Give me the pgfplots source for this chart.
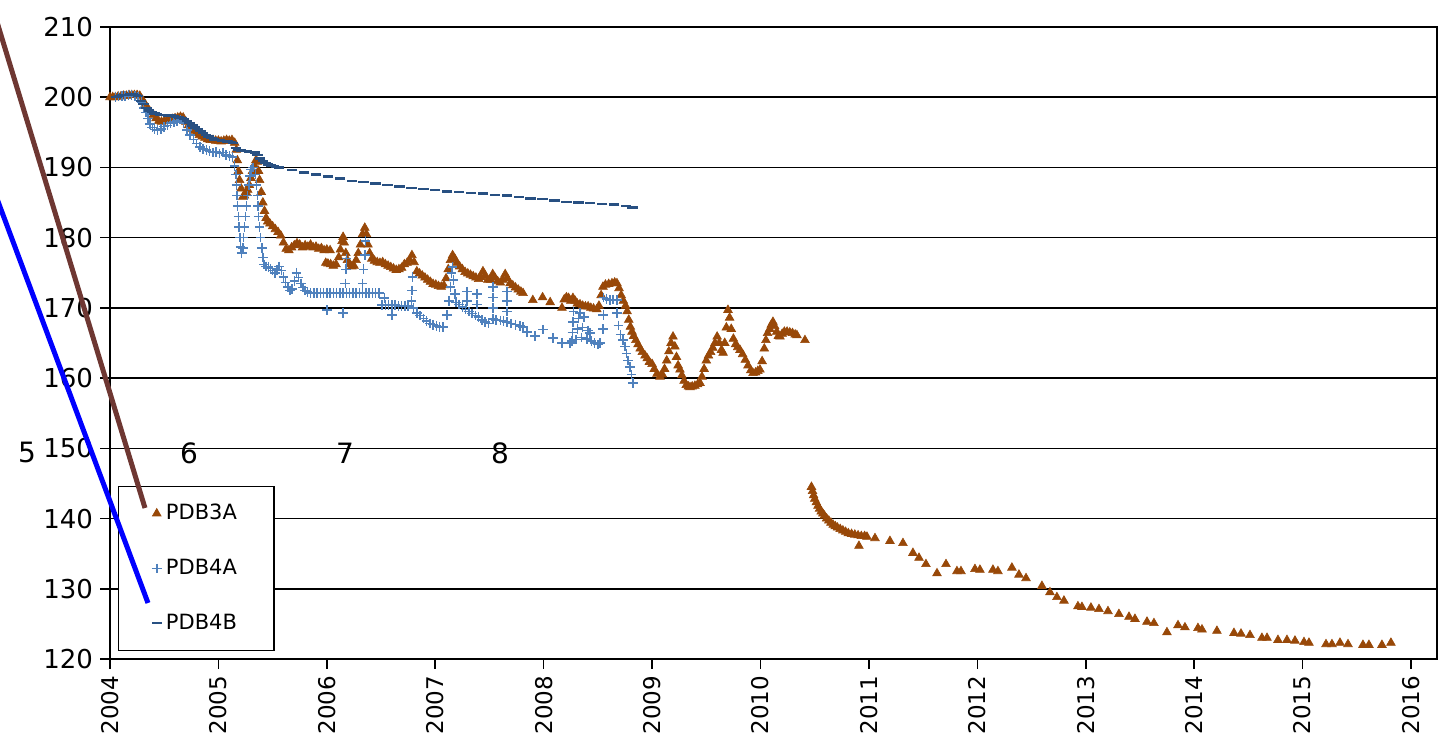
\documentclass[border=0pt]{standalone}
\usepackage{fontspec}
\setmainfont{DejaVu Sans}
\usepackage{pgfplots}
\pgfplotsset{compat=1.18}
\definecolor{cBrown}{RGB}{152,72,8}
\definecolor{cPlus}{RGB}{79,129,189}
\definecolor{cDash}{RGB}{40,80,130}
\definecolor{cLine}{RGB}{110,55,50}
\begin{document}
\begin{tikzpicture}
\begin{axis}[
  at={(0,0)}, anchor=south west, scale only axis,
  width=663.5pt, height=316pt,
  xmin=2004, xmax=2016.24, ymin=120, ymax=210,
  xtick={2004,2005,2006,2007,2008,2009,2010,2011,2012,2013,2014,2015,2016},
  xticklabels={2004,2005,2006,2007,2008,2009,2010,2011,2012,2013,2014,2015,2016},
  ytick={120,130,140,150,160,170,180,190,200,210},
  yticklabels={120,130,140,150,160,170,180,190,200,210},
  xticklabel style={rotate=90, anchor=east, font=\fontsize{11.5}{13}\selectfont},
  yticklabel style={font=\fontsize{13}{15}\selectfont},
  tick label style={black},
  tick align=outside, xtick pos=bottom, ytick pos=left,
  major tick length=5pt,
  tick style={black, line width=0.8pt},
  ymajorgrids, major grid style={black, line width=0.8pt},
  axis line style={black, line width=0.9pt},
  legend style={at={(0.006,0.0127)}, anchor=south west, draw=black, line width=0.6pt,
    font=\fontsize{10.5}{12}\selectfont, inner xsep=16.5pt, inner ysep=7pt, row sep=14.25pt,
    cells={anchor=west}},
  legend image code/.code={\draw[mark repeat=2,mark phase=2,#1] plot coordinates {(0pt,0pt)(4pt,0pt)(10.5pt,0pt)};},
]
% PDB3A
\addplot[only marks, mark=triangle*, mark size=2.5pt, color=cBrown, mark options={line width=0.3pt}] coordinates {
(2004.000,200.0)(2004.025,200.0)(2004.050,200.0)(2004.075,200.1)(2004.100,200.1)(2004.125,200.2)(2004.150,200.2)(2004.175,200.3)(2004.200,200.3)(2004.225,200.3)(2004.250,200.3)(2004.275,200.2)(2004.300,199.6)(2004.325,199.0)(2004.350,198.4)(2004.375,197.9)(2004.400,197.5)(2004.425,197.0)(2004.450,196.6)(2004.475,196.5)(2004.500,196.6)(2004.525,196.7)(2004.550,196.8)(2004.575,196.9)(2004.600,197.0)(2004.625,197.1)(2004.650,197.2)(2004.675,197.1)(2004.700,196.5)(2004.725,196.0)(2004.750,195.5)(2004.775,195.2)(2004.800,194.9)(2004.825,194.6)(2004.850,194.4)(2004.875,194.2)(2004.900,194.0)(2004.925,193.9)(2004.950,193.9)(2004.975,193.8)
(2005.000,193.8)(2005.025,193.7)(2005.050,193.8)(2005.075,193.9)(2005.100,193.8)(2005.125,193.9)(2005.150,193.5)(2005.165,192.5)(2005.175,191.0)(2005.185,189.5)(2005.195,188.2)(2005.210,187.0)(2005.225,185.8)(2005.240,186.0)(2005.255,186.5)(2005.270,186.8)(2005.285,187.5)(2005.300,188.5)(2005.315,189.5)(2005.330,190.3)(2005.345,191.0)(2005.360,190.8)(2005.370,189.5)(2005.380,188.2)(2005.395,186.5)(2005.410,185.0)(2005.425,183.8)(2005.440,182.8)(2005.455,182.3)(2005.475,182.0)(2005.500,181.6)(2005.525,181.2)(2005.550,180.8)(2005.575,180.3)(2005.600,179.3)(2005.625,178.4)(2005.650,178.2)(2005.675,178.6)(2005.700,178.9)(2005.725,179.2)(2005.750,179.0)(2005.775,178.6)(2005.800,178.9)(2005.825,178.7)(2005.850,179.0)(2005.875,178.6)(2005.900,178.7)(2005.925,178.4)(2005.950,178.5)(2005.975,178.2)(2006.000,178.3)(2006.030,178.2)
(2005.990,176.4)(2006.010,176.3)(2006.035,176.2)(2006.060,176.0)(2006.085,176.2)(2006.110,177.2)(2006.125,178.3)(2006.140,179.5)(2006.150,180.1)(2006.160,179.3)(2006.175,177.8)(2006.190,176.8)(2006.210,176.2)(2006.230,175.9)(2006.250,176.0)(2006.270,176.8)(2006.290,177.8)(2006.310,179.0)(2006.330,180.5)(2006.350,181.4)(2006.365,180.5)(2006.380,179.0)(2006.395,177.8)(2006.415,177.0)(2006.440,176.7)(2006.465,176.5)(2006.490,176.4)(2006.515,176.5)(2006.540,176.2)(2006.565,176.0)(2006.590,175.8)(2006.615,175.6)(2006.640,175.4)(2006.665,175.5)(2006.690,175.7)(2006.715,176.2)(2006.740,176.4)(2006.765,176.8)(2006.785,177.5)(2006.805,176.5)(2006.830,175.2)(2006.855,174.9)(2006.880,174.6)(2006.905,174.3)(2006.930,174.0)(2006.955,173.7)(2006.980,173.4)
(2007.005,173.3)(2007.030,173.1)(2007.055,173.0)(2007.080,173.2)(2007.100,174.2)(2007.120,175.5)(2007.140,176.8)(2007.160,177.5)(2007.180,177.0)(2007.200,176.4)(2007.225,175.9)(2007.250,175.5)(2007.275,175.1)(2007.300,174.9)(2007.325,174.7)(2007.350,174.5)(2007.375,174.3)(2007.400,174.1)(2007.420,174.4)(2007.440,175.2)(2007.460,174.6)(2007.485,174.0)(2007.510,174.0)(2007.530,174.8)(2007.550,174.3)(2007.575,173.8)(2007.600,173.6)(2007.625,174.0)(2007.645,174.8)(2007.665,174.2)(2007.690,173.5)(2007.715,173.2)(2007.740,172.9)(2007.765,172.6)(2007.790,172.3)(2007.810,172.1)
(2007.900,171.1)(2007.990,171.5)(2008.060,170.8)
(2008.169,170.0)(2008.190,171.2)(2008.210,171.5)(2008.230,171.4)(2008.250,171.0)(2008.270,171.4)(2008.290,171.0)(2008.310,170.6)(2008.335,170.5)(2008.360,170.3)(2008.385,170.2)(2008.410,170.2)(2008.435,170.0)(2008.460,169.9)(2008.490,169.8)(2008.510,170.3)(2008.530,171.8)(2008.547,173.0)(2008.570,173.3)(2008.600,173.4)(2008.630,173.5)(2008.655,173.6)(2008.676,173.5)(2008.695,172.8)(2008.715,171.8)(2008.735,171.0)(2008.755,170.3)(2008.770,169.5)(2008.785,168.3)(2008.800,167.3)(2008.815,166.6)(2008.830,166.0)(2008.850,165.4)(2008.870,164.8)(2008.890,164.2)(2008.910,163.7)(2008.935,163.2)(2008.955,162.8)(2008.975,162.3)
(2009.000,162.0)(2009.020,161.3)(2009.045,160.6)(2009.073,160.2)(2009.095,160.5)(2009.115,161.3)(2009.135,162.5)(2009.155,163.8)(2009.175,165.0)(2009.193,165.9)(2009.210,164.5)(2009.225,163.0)(2009.240,161.8)(2009.257,161.2)(2009.275,160.4)(2009.295,159.6)(2009.315,159.0)(2009.335,158.8)(2009.350,158.7)(2009.370,158.8)(2009.395,158.9)(2009.420,159.1)(2009.442,159.3)(2009.460,160.2)(2009.480,161.3)(2009.500,162.5)(2009.520,163.2)(2009.540,163.7)(2009.560,164.3)(2009.580,165.0)(2009.600,165.9)(2009.620,165.0)(2009.640,164.0)(2009.655,163.6)(2009.670,165.0)(2009.685,167.2)(2009.700,169.7)(2009.715,168.6)(2009.730,167.0)(2009.750,165.6)(2009.770,164.8)(2009.790,164.4)(2009.811,164.0)(2009.835,163.4)(2009.860,162.6)(2009.885,161.8)(2009.910,161.1)(2009.931,160.7)(2009.955,160.8)(2009.975,161.0)(2009.995,161.2)
(2010.015,162.4)(2010.035,164.2)(2010.050,165.4)(2010.065,166.4)(2010.085,167.0)(2010.100,167.6)(2010.115,168.0)(2010.130,167.4)(2010.150,166.6)(2010.165,166.0)(2010.180,165.9)(2010.200,166.3)(2010.220,166.6)(2010.245,166.6)(2010.270,166.5)(2010.295,166.4)(2010.320,166.2)(2010.336,166.1)(2010.410,165.4)
(2010.470,144.5)(2010.480,143.9)(2010.490,143.3)(2010.500,142.8)(2010.515,142.3)(2010.530,141.8)(2010.545,141.4)(2010.560,141.0)(2010.575,140.7)(2010.590,140.4)(2010.610,140.0)(2010.630,139.7)(2010.650,139.4)(2010.670,139.1)(2010.690,138.9)(2010.710,138.7)(2010.735,138.5)(2010.760,138.3)(2010.785,138.1)(2010.810,137.9)(2010.840,137.8)(2010.870,137.7)(2010.900,137.6)(2010.930,137.5)(2010.960,137.5)(2010.982,137.4)(2010.908,136.1)
(2011.056,137.2)(2011.194,136.8)(2011.314,136.5)(2011.406,135.1)(2011.462,134.4)(2011.526,133.5)(2011.628,132.2)(2011.711,133.5)(2011.812,132.5)(2011.849,132.5)(2011.978,132.8)
(2012.024,132.7)(2012.144,132.7)(2012.190,132.5)(2012.319,133.0)(2012.384,132.0)(2012.449,131.5)(2012.596,130.4)(2012.670,129.5)(2012.734,128.8)(2012.799,128.3)(2012.928,127.5)(2012.965,127.4)
(2013.048,127.3)(2013.122,127.1)(2013.205,126.8)(2013.306,126.4)(2013.399,126.0)(2013.454,125.7)(2013.565,125.3)(2013.629,125.1)(2013.749,123.8)(2013.851,124.8)(2013.915,124.5)
(2014.035,124.4)(2014.072,124.2)(2014.210,124.0)(2014.367,123.7)(2014.432,123.6)(2014.515,123.4)(2014.625,123.0)(2014.672,123.0)(2014.773,122.7)(2014.856,122.7)(2014.930,122.6)
(2015.013,122.4)(2015.059,122.3)(2015.216,122.1)(2015.271,122.1)(2015.345,122.3)(2015.419,122.1)(2015.557,122.0)(2015.612,122.0)(2015.732,122.0)(2015.815,122.3)
};
\addlegendentry{PDB3A}
% PDB4A
\addplot[only marks, mark=+, mark size=2.4pt, color=cPlus, mark options={line width=0.75pt}] coordinates {
(2004.050,200.0)(2004.080,200.1)(2004.110,200.2)(2004.140,200.2)(2004.170,200.3)(2004.200,200.3)(2004.230,200.2)(2004.260,200.1)(2004.290,199.3)(2004.310,198.5)(2004.330,197.8)(2004.350,197.0)(2004.370,196.2)(2004.390,195.7)(2004.410,195.4)(2004.440,195.3)(2004.470,195.5)(2004.500,195.8)(2004.530,196.0)(2004.560,196.3)(2004.590,196.5)(2004.620,196.6)(2004.650,196.8)(2004.680,196.3)(2004.710,195.3)(2004.740,194.6)(2004.770,194.0)(2004.800,193.4)(2004.830,192.9)(2004.860,192.6)(2004.890,192.5)(2004.920,192.3)(2004.950,192.1)(2004.980,192.2)
(2005.010,192.0)(2005.040,192.1)(2005.070,191.8)(2005.100,191.6)(2005.130,191.5)(2005.150,190.2)(2005.160,189.0)(2005.165,187.5)(2005.170,186.0)(2005.175,184.5)(2005.185,183.0)(2005.190,181.5)(2005.200,180.0)(2005.205,178.7)(2005.215,177.8)(2005.225,178.5)(2005.230,180.0)(2005.240,181.5)(2005.250,183.0)(2005.260,184.5)(2005.270,186.0)(2005.280,187.5)(2005.290,188.8)(2005.300,189.7)(2005.320,190.0)(2005.340,189.0)(2005.350,187.5)(2005.360,186.0)(2005.365,184.5)(2005.370,183.0)(2005.380,181.5)(2005.390,180.0)(2005.400,178.5)(2005.410,177.2)(2005.420,176.2)(2005.440,175.9)(2005.460,175.8)(2005.480,175.6)(2005.500,175.3)(2005.520,175.0)(2005.540,175.4)(2005.560,175.9)(2005.580,175.3)(2005.600,174.4)(2005.620,173.6)(2005.640,173.0)(2005.660,172.5)(2005.680,172.7)(2005.700,173.8)(2005.720,175.0)(2005.740,174.3)(2005.760,173.5)(2005.780,172.9)(2005.800,172.5)(2005.820,172.3)(2005.850,172.1)(2005.880,172.1)(2005.910,172.1)(2005.940,172.1)(2005.970,172.1)
(2006.000,172.1)(2006.030,172.1)(2006.060,172.1)(2006.090,172.1)(2006.120,172.1)(2006.150,172.1)(2006.180,172.1)(2006.210,172.1)(2006.240,172.1)(2006.270,172.1)(2006.300,172.1)(2006.330,172.1)(2006.360,172.1)(2006.390,172.1)(2006.420,172.1)(2006.450,172.1)(2006.480,172.1)
(2006.001,169.7)(2006.150,169.3)(2006.170,173.5)(2006.175,175.5)(2006.180,177.0)(2006.330,173.5)(2006.340,175.5)(2006.350,177.5)(2006.355,179.5)
(2006.510,170.4)(2006.540,170.4)(2006.570,170.4)(2006.600,170.4)(2006.630,170.4)(2006.660,170.3)(2006.690,170.3)(2006.720,170.3)(2006.750,170.3)(2006.530,171.4)(2006.600,169.0)
(2006.780,171.0)(2006.785,172.5)(2006.790,174.4)(2006.800,170.0)(2006.830,169.3)(2006.860,168.9)(2006.890,168.5)(2006.920,168.1)(2006.950,167.8)(2006.980,167.6)(2007.010,167.4)(2007.040,167.3)(2007.070,167.3)
(2007.110,169.0)(2007.125,171.0)(2007.140,173.0)(2007.150,175.0)(2007.160,175.8)(2007.170,174.0)(2007.180,172.0)(2007.190,170.8)(2007.220,170.5)(2007.250,170.1)(2007.280,169.8)(2007.310,169.5)(2007.340,169.2)(2007.370,168.9)(2007.400,168.7)(2007.430,168.3)(2007.460,168.0)(2007.490,167.8)
(2007.293,171.0)(2007.293,172.3)(2007.385,170.5)(2007.385,172.0)(2007.533,168.4)(2007.533,170.0)(2007.533,171.5)(2007.533,173.0)(2007.560,168.3)(2007.600,168.2)(2007.630,168.1)(2007.662,168.0)(2007.662,169.5)(2007.662,171.0)(2007.662,172.3)(2007.700,167.8)(2007.740,167.6)(2007.780,167.4)(2007.810,167.3)
(2007.846,166.6)(2007.920,166.0)(2007.994,166.9)(2008.086,165.7)(2008.169,165.0)(2008.243,165.0)
(2008.260,165.3)(2008.265,166.5)(2008.270,168.0)(2008.275,169.5)(2008.300,165.5)(2008.310,167.0)(2008.320,168.5)(2008.335,169.3)(2008.350,165.8)(2008.360,167.2)(2008.370,168.7)(2008.400,165.6)(2008.410,166.8)(2008.427,166.4)(2008.440,165.3)(2008.470,165.0)(2008.500,164.8)(2008.520,165.0)
(2008.547,167.0)(2008.550,169.0)(2008.553,171.5)(2008.580,171.3)(2008.610,171.1)(2008.640,171.2)(2008.676,171.1)(2008.676,169.3)(2008.690,167.5)(2008.710,166.2)(2008.730,165.4)(2008.750,164.5)(2008.765,163.5)(2008.780,162.5)(2008.796,161.6)(2008.810,160.5)(2008.824,159.3)
};
\addlegendentry{PDB4A}
% PDB4B
\addplot[only marks, mark=-, mark size=2.6pt, color=cDash, mark options={line width=1.2pt}] coordinates {
(2004.060,200.0)(2004.085,200.2)(2004.110,200.3)(2004.135,200.3)(2004.160,200.3)(2004.185,200.4)(2004.210,200.4)(2004.235,200.3)(2004.260,200.2)(2004.285,199.5)(2004.310,199.0)(2004.335,198.5)(2004.360,198.1)(2004.385,197.9)(2004.410,197.7)(2004.435,197.6)(2004.460,197.5)(2004.485,197.5)(2004.510,197.5)(2004.535,197.4)(2004.560,197.4)(2004.585,197.3)(2004.610,197.2)(2004.635,197.1)(2004.660,197.0)(2004.685,196.9)(2004.710,196.6)(2004.735,196.3)(2004.760,196.0)(2004.785,195.7)(2004.810,195.5)(2004.835,195.2)(2004.860,194.9)(2004.885,194.6)(2004.910,194.4)(2004.935,194.2)(2004.960,194.0)(2004.985,193.9)
(2005.010,193.9)(2005.035,193.8)(2005.060,193.8)(2005.085,193.7)(2005.110,193.6)(2005.135,193.5)(2005.160,192.8)(2005.185,192.5)(2005.210,192.4)(2005.235,192.3)(2005.260,192.3)(2005.285,192.2)(2005.310,192.2)(2005.335,192.1)(2005.360,191.8)(2005.385,191.3)(2005.410,190.9)(2005.435,190.6)(2005.460,190.4)(2005.485,190.3)(2005.510,190.2)(2005.535,190.1)(2005.560,190.0)
(2005.680,189.6)(2005.790,189.3)(2005.900,189.0)(2006.010,188.7)(2006.120,188.4)(2006.230,188.1)(2006.340,187.9)(2006.450,187.7)(2006.560,187.5)(2006.670,187.3)(2006.780,187.1)(2006.890,186.9)(2007.000,186.8)(2007.110,186.6)(2007.220,186.5)(2007.330,186.4)(2007.440,186.3)(2007.550,186.1)(2007.660,186.0)(2007.770,185.8)(2007.880,185.6)(2007.990,185.5)(2008.100,185.3)(2008.210,185.1)(2008.320,185.0)(2008.430,184.9)(2008.540,184.8)(2008.650,184.7)(2008.760,184.5)(2008.820,184.3)
};
\addlegendentry{PDB4B}
\end{axis}
% stray drawing objects and labels of the original sheet
\draw[cLine, line width=2.5pt] (-60pt,330pt) -- (17.5pt,75.5pt);
\draw[blue, line width=2.5pt] (-58.7pt,236pt) -- (19pt,28pt);
\node[font=\fontsize{14}{16}\selectfont] at (-41.5pt,103pt) {5};
\node[font=\fontsize{14}{16}\selectfont] at (39.5pt,103pt) {6};
\node[font=\fontsize{14}{16}\selectfont] at (117.5pt,103pt) {7};
\node[font=\fontsize{14}{16}\selectfont] at (195pt,103pt) {8};
\pgfresetboundingbox
\useasboundingbox (-55pt,-41.5pt) rectangle (667.5pt,329.5pt);
\end{tikzpicture}
\end{document}
